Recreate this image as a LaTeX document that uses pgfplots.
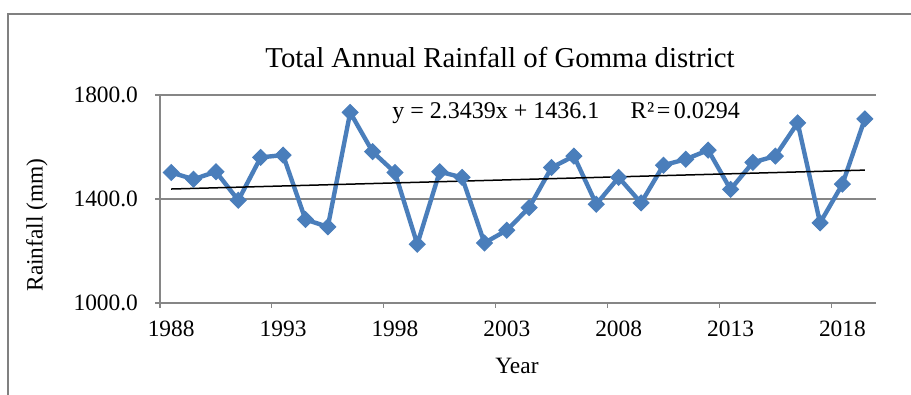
\documentclass[border=0pt]{standalone}
\usepackage{fontspec}
\setmainfont{Liberation Serif}
\usepackage{pgfplots}
\pgfplotsset{compat=1.18}
\definecolor{exblue}{RGB}{74,126,187}
\definecolor{exgray}{RGB}{134,134,134}
\definecolor{framegray}{RGB}{128,128,128}
\begin{document}
\begin{tikzpicture}
\useasboundingbox (0pt,0pt) rectangle (455.5pt,197.5pt);
\draw[framegray, line width=1pt] (4pt,0pt) -- (4pt,190.5pt) -- (455.5pt,190.5pt);
\node[font=\fontsize{14.4}{17}\selectfont] at (250pt,168.5pt) {Total Annual Rainfall of Gomma district};
\node[font=\fontsize{11.7}{14}\selectfont] at (258.5pt,14.5pt) {Year};
\node[font=\fontsize{11.7}{14}\selectfont, rotate=90] at (18.5pt,85pt) {Rainfall (mm)};
\begin{axis}[
  at={(80pt,46pt)}, anchor=south west,
  scale only axis, width=358pt, height=104pt,
  xmin=1987.5, xmax=2019.5, ymin=1000, ymax=1800,
  axis x line*=bottom, axis y line*=left,
  axis line style={-, exgray, line width=0.6pt},
  xtick={1987.5,1992.5,1997.5,2002.5,2007.5,2012.5,2017.5},
  xticklabels={},
  extra x ticks={1988,1993,1998,2003,2008,2013,2018},
  extra x tick labels={1988,1993,1998,2003,2008,2013,2018},
  extra x tick style={major tick length=0pt, xticklabel style={yshift=-5.5pt}},
  ytick={1000,1400,1800},
  yticklabels={1000.0,1400.0,1800.0},
  yticklabel style={xshift=-5pt},
  ymajorgrids,
  grid style={exgray, line width=0.6pt},
  tick align=outside, major tick length=2.5pt,
  tick style={exgray, line width=0.6pt},
  ticklabel style={font=\fontsize{11.7}{14}\selectfont},
  clip=false,
]
\addplot[exblue, line width=2.2pt, mark=square*, mark size=2.8pt,
  mark options={rotate=45, fill=exblue, draw=exblue, line width=0.5pt}] coordinates {
(1988,1502) (1989,1476) (1990,1505) (1991,1395) (1992,1560) (1993,1569)
(1994,1321) (1995,1293) (1996,1733) (1997,1582) (1998,1502) (1999,1226)
(2000,1505) (2001,1483) (2002,1231) (2003,1280) (2004,1367) (2005,1521)
(2006,1565) (2007,1380) (2008,1483) (2009,1385) (2010,1530) (2011,1553)
(2012,1588) (2013,1437) (2014,1541) (2015,1565) (2016,1693) (2017,1308)
(2018,1457) (2019,1708)
};
\addplot[black, line width=0.75pt] coordinates {(1988,1438.4) (2019,1511.1)};
\node[anchor=west, inner sep=0pt, font=\fontsize{12}{14}\selectfont] at (axis cs:1997.87,1731) {y = 2.3439x + 1436.1\hspace{1.3em}R\hspace{0.02em}²\hspace{0.1em}=\hspace{0.15em}0.0294};
\end{axis}
\end{tikzpicture}
\end{document}
